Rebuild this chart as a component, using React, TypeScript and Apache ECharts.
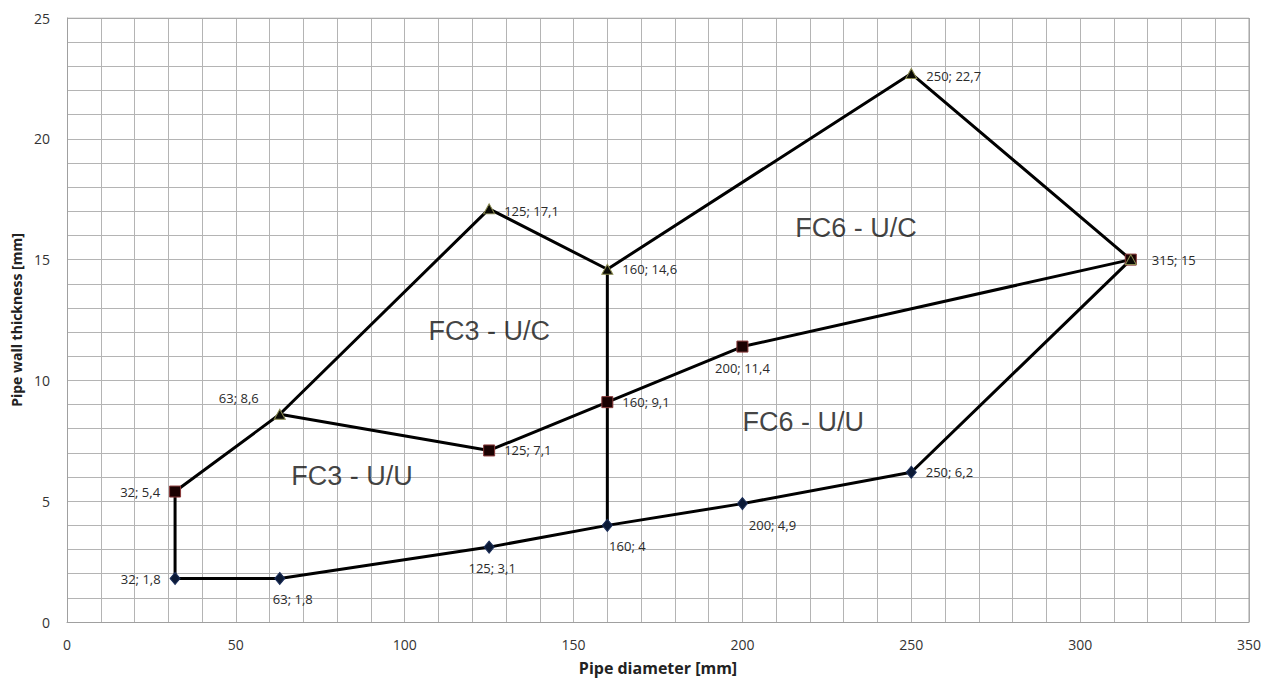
import React, { useEffect, useRef } from "react";
import * as echarts from "echarts";

// Marker series
const diamondX = [32, 63, 125, 160, 200, 250];
const diamondY = [1.8, 1.8, 3.1, 4, 4.9, 6.2];
const squareX = [32, 125, 160, 200, 315];
const squareY = [5.4, 7.1, 9.1, 11.4, 15];
const triangleX = [63, 125, 160, 250, 315];
const triangleY = [8.6, 17.1, 14.6, 22.7, 15];

// Boundary polylines [x, y]
const lowerLine = [[32, 1.8], [63, 1.8], [125, 3.1], [160, 4], [200, 4.9], [250, 6.2], [315, 15]];
const leftVertical = [[32, 1.8], [32, 5.4]];
const middleLine = [[32, 5.4], [63, 8.6], [125, 7.1], [160, 9.1], [200, 11.4], [315, 15]];
const upperLine = [[63, 8.6], [125, 17.1], [160, 14.6], [250, 22.7], [315, 15]];
const centerVertical = [[160, 4], [160, 14.6]];

// Region annotations
const zoneText = ["FC3 - U/U", "FC3 - U/C", "FC6 - U/U", "FC6 - U/C"];
const zoneX = [84.4, 125, 218, 233.6];
const zoneY = [6.04, 12.05, 8.28, 16.3];

// Label placement per point (placement only)
const diamondLabelPos = [
  { position: "left", offset: [-4, 0] },
  { position: "bottom", offset: [13, 2] },
  { position: "bottom", offset: [3, 3] },
  { position: "bottom", offset: [20, 3] },
  { position: "bottom", offset: [30, 3] },
  { position: "right", offset: [4, 0] },
];
const squareLabelPos = [
  { position: "left", offset: [-4, 0] },
  { position: "right", offset: [4, 0] },
  { position: "right", offset: [4, 0] },
  { position: "bottom", offset: [0, 4] },
  { position: "right", offset: [10, 0] },
];
const triangleLabelPos = [
  { position: "left", offset: [-10, -16] },
  { position: "right", offset: [4, 2] },
  { position: "right", offset: [4, 0] },
  { position: "right", offset: [4, 2] },
  { position: "right", offset: [200, 0], show: false },
];

const fmt = (x: number, y: number) => `${x}; ${String(y).replace(".", ",")}`;

const FONT = "'Open Sans', 'Liberation Sans', sans-serif";
const LABEL_COLOR = "#2b2b2b";

function markerData(xs: number[], ys: number[], pos: any[]) {
  return xs.map((x, i) => ({
    value: [x, ys[i]],
    label: {
      show: pos[i].show !== false,
      position: pos[i].position,
      offset: pos[i].offset,
      formatter: fmt(x, ys[i]),
      color: LABEL_COLOR,
      fontFamily: FONT,
      fontSize: 13,
    },
  }));
}

function lineSeries(data: number[][]) {
  return {
    type: "line",
    data,
    showSymbol: false,
    symbol: "none",
    lineStyle: { color: "#000", width: 3 },
    z: 2,
    silent: true,
  };
}

export default function App() {
  const ref = useRef<HTMLDivElement>(null);
  useEffect(() => {
    if (!ref.current) return;
    const chart = echarts.init(ref.current, null, { renderer: "svg" });
    const labelStyle = { fontFamily: FONT, fontSize: 13, color: LABEL_COLOR };
    chart.setOption({
      animation: false,
      backgroundColor: "#fff",
      grid: { left: 67, right: 23, top: 18, bottom: 60, show: false },
      xAxis: {
        type: "value",
        min: 0,
        max: 350,
        interval: 10,
        name: "Pipe diameter [mm]",
        nameLocation: "middle",
        nameGap: 38,
        nameTextStyle: { fontFamily: FONT, fontSize: 16, fontWeight: "bold", color: "#222" },
        axisLine: { show: true, lineStyle: { color: "#a0a0a0", width: 1 } },
        axisTick: { show: false },
        axisLabel: {
          margin: 15,
          fontFamily: FONT,
          fontSize: 14,
          color: "#333",
          formatter: (v: number) => (v % 50 === 0 ? String(v) : ""),
        },
        splitLine: { show: true, lineStyle: { color: "#b4b4b4", width: 1 } },
      },
      yAxis: {
        type: "value",
        min: 0,
        max: 25,
        interval: 1,
        name: "Pipe wall thickness [mm]",
        nameLocation: "middle",
        nameGap: 41,
        nameTextStyle: { fontFamily: FONT, fontSize: 14, fontWeight: "bold", color: "#222" },
        axisLine: { show: true, lineStyle: { color: "#a0a0a0", width: 1 } },
        axisTick: { show: false },
        axisLabel: {
          margin: 17,
          fontFamily: FONT,
          fontSize: 14,
          color: "#333",
          formatter: (v: number) => (v % 5 === 0 ? String(v) : ""),
        },
        splitLine: { show: true, lineStyle: { color: "#b4b4b4", width: 1 } },
      },
      series: [
        {
          type: "line",
          data: [[350, 0], [350, 25]],
          symbol: "none",
          lineStyle: { color: "#a0a0a0", width: 1 },
          silent: true,
        },
        {
          type: "line",
          data: [[0, 25], [350, 25]],
          symbol: "none",
          lineStyle: { color: "#a0a0a0", width: 1 },
          silent: true,
        },
        lineSeries(lowerLine),
        lineSeries(leftVertical),
        lineSeries(middleLine),
        lineSeries(upperLine),
        lineSeries(centerVertical),
        {
          type: "scatter",
          symbol: "diamond",
          symbolSize: [10, 12],
          itemStyle: { color: "#0c1a36", borderColor: "#1c2f5a", borderWidth: 1, opacity: 1 },
          label: labelStyle,
          data: markerData(diamondX, diamondY, diamondLabelPos),
          z: 4,
        },
        {
          type: "scatter",
          symbol: "triangle",
          symbolSize: [11, 10],
          itemStyle: { color: "#0a0a05", borderColor: "#8a8a50", borderWidth: 1, opacity: 1 },
          label: labelStyle,
          data: markerData(triangleX, triangleY, triangleLabelPos),
          z: 4,
        },
        {
          type: "scatter",
          symbol: "rect",
          symbolSize: 11,
          itemStyle: { color: "#1a0202", borderColor: "#8a3a3a", borderWidth: 1, opacity: 1 },
          label: labelStyle,
          data: markerData(squareX, squareY, squareLabelPos),
          z: 3,
        },
        {
          type: "scatter",
          symbolSize: 0,
          silent: true,
          label: {
            show: true,
            position: "inside",
            fontFamily: "'Liberation Sans', Arial, sans-serif",
            fontSize: 27,
            color: "#111",
            formatter: (p: any) => zoneText[p.dataIndex],
          },
          data: zoneX.map((x, i) => [x, zoneY[i]]),
          z: 5,
        },
      ],
    });
    return () => chart.dispose();
  }, []);
  return (
    <div
      ref={ref}
      style={{ position: "fixed", left: 0, top: 0, width: 1272, height: 682, background: "#fff" }}
    />
  );
}
